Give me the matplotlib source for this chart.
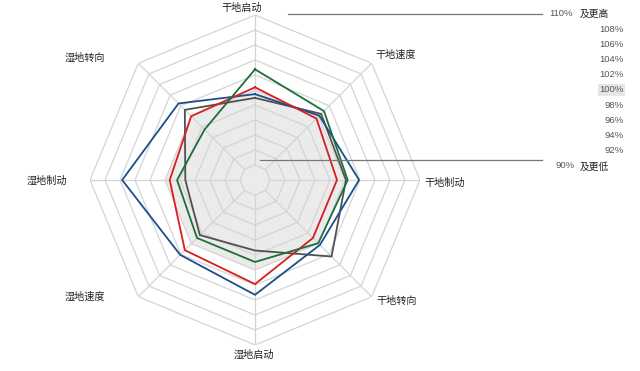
import numpy as np
import matplotlib
matplotlib.use("Agg")
import matplotlib.pyplot as plt
from matplotlib.lines import Line2D
from matplotlib.patches import Rectangle

plt.rcParams['font.family'] = ['Noto Sans CJK SC', 'DejaVu Sans']

categories = ['干地启动', '干地速度', '干地制动', '干地转向',
              '湿地启动', '湿地速度', '湿地制动', '湿地转向']
green = [102.76, 101.0, 100.36, 99.92, 98.93, 98.93, 98.39, 97.51]
red = [100.36, 99.59, 98.93, 98.93, 101.88, 101.23, 99.37, 100.03]
blue = [99.45, 100.13, 101.88, 100.24, 103.31, 102.11, 105.71, 102.43]
gray = [98.95, 100.47, 100.13, 102.43, 97.4, 98.39, 97.29, 101.23]
levels = [90, 92, 94, 96, 98, 100, 102, 104, 106, 108, 110]
scale_labels = ['108%', '106%', '104%', '102%', '100%', '98%', '96%', '94%', '92%']

W, H = 640, 371
fig = plt.figure(figsize=(W / 100, H / 100), dpi=100)
cx, cy, R = 255, 180, 165
ax = fig.add_axes([(cx - R) / W, (H - cy - R) / H, 2 * R / W, 2 * R / H],
                  projection='polar')
ax.set_theta_zero_location('N')
ax.set_theta_direction(-1)
ax.set_ylim(88, 110)
ax.grid(False)
ax.set_xticks([])
ax.set_yticks([])
ax.spines['polar'].set_visible(False)
ax.patch.set_alpha(0)

n = len(categories)
theta = np.linspace(0, 2 * np.pi, n, endpoint=False)
tc = np.concatenate([theta, theta[:1]])

# shaded region up to 100%
ax.fill(tc, [100] * (n + 1), color='#ebebeb', zorder=0, lw=0)
for lv in levels:
    ax.plot(tc, [lv] * (n + 1), color='#d4d4d4', lw=0.9, zorder=1)
for t in theta:
    ax.plot([t, t], [90, 110], color='#d4d4d4', lw=0.9, zorder=1)

def close(v):
    return list(v) + [v[0]]

ax.plot(tc, close(gray), color='#505050', lw=1.3, zorder=3)
ax.plot(tc, close(blue), color='#1a4f8a', lw=1.3, zorder=4)
ax.plot(tc, close(red), color='#d81e1e', lw=1.3, zorder=5)
ax.plot(tc, close(green), color='#1e6e3c', lw=1.3, zorder=6)

# category labels
label_pos = [(242, 8), (396, 55), (445, 183), (397, 301),
             (254, 355), (85, 297), (47, 181), (85, 58)]
for name, (x, y) in zip(categories, label_pos):
    fig.text(x / W, 1 - y / H, name, ha='center', va='center',
             fontsize=7.3, color='#222222')

# scale legend
fig.add_artist(Line2D([288 / W, 542 / W], [1 - 13.5 / H, 1 - 13.5 / H],
                      color='#777777', lw=0.9))
fig.add_artist(Line2D([260 / W, 542 / W], [1 - 160 / H, 1 - 160 / H],
                      color='#777777', lw=0.9))
pfam = ['Liberation Sans', 'Noto Sans CJK SC']
fig.text(573 / W, 1 - 14 / H, '110%', ha='right', va='center', fontsize=6.8,
         color='#555555', family=pfam)
fig.text(580 / W, 1 - 14 / H, '及更高', ha='left', va='center', fontsize=7,
         color='#222222')
fig.text(575 / W, 1 - 165 / H, '90%', ha='right', va='center', fontsize=6.8,
         color='#555555', family=pfam)
fig.text(580 / W, 1 - 167 / H, '及更低', ha='left', va='center', fontsize=7,
         color='#222222')
ys = np.linspace(29.3, 150.7, len(scale_labels))
for lab, y in zip(scale_labels, ys):
    if lab == '100%':
        fig.add_artist(Rectangle((598 / W, 1 - 95.5 / H), 27 / W, 12 / H,
                                 transform=fig.transFigure, color='#e6e6e6', lw=0))
    fig.text(624 / W, 1 - y / H, lab, ha='right', va='center', fontsize=6.8,
             color='#555555', family=pfam)

fig.savefig('out.png', dpi=100)
